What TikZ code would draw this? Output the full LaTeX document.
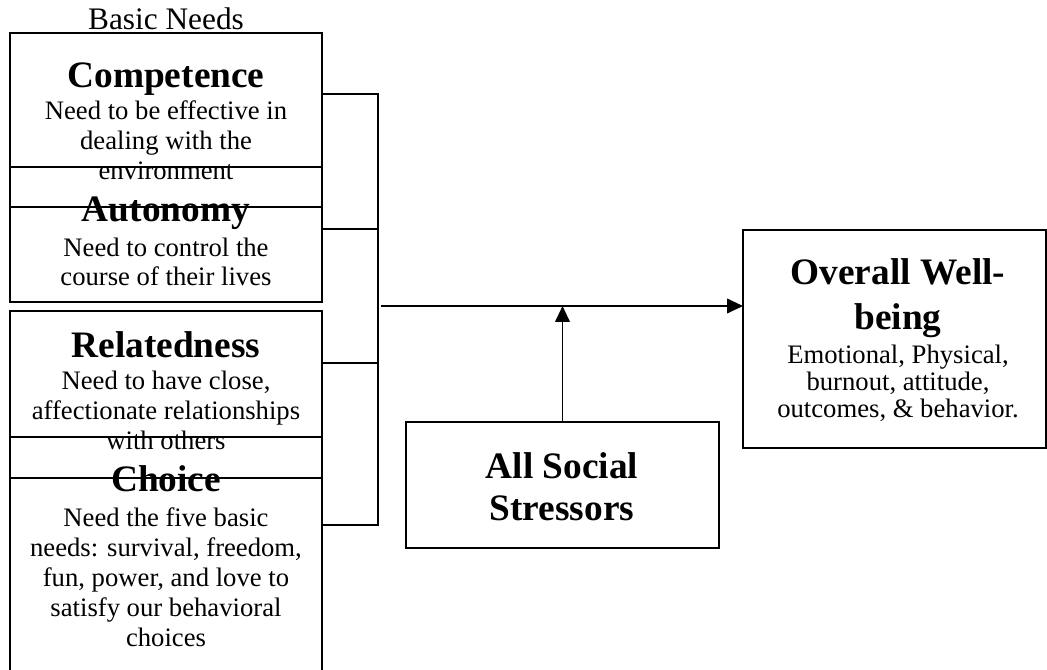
\documentclass[tikz,border=0pt]{standalone}
\usepackage{fontspec}
\setmainfont{Liberation Serif}
\usetikzlibrary{arrows.meta}
\begin{document}
\begin{tikzpicture}[x=0.75pt,y=-0.75pt,
  box/.style={draw,line width=1.4pt,rectangle,inner sep=0pt,outer sep=0pt,anchor=north west},
  ttl/.style={anchor=base,inner sep=0pt,font=\fontsize{28}{32}\selectfont\bfseries,align=center},
  txt/.style={anchor=base,inner sep=0pt,font=\fontsize{20}{22.5}\selectfont,align=center},
  conn/.style={line width=1.4pt},
  arr/.style={line width=1.4pt,-{Triangle[length=12pt,width=11pt]}}]
\useasboundingbox (0,0) rectangle (1047,670);
\clip (0,0) rectangle (1047,670);
% boxes
\node[box,minimum width=234pt,minimum height=130.5pt] (comp) at (10,33) {};
\node[box,minimum width=234pt,minimum height=101.25pt] (auto) at (10,167) {};
\node[box,minimum width=234pt,minimum height=125.25pt] (rel) at (10,311) {};
\node[box,minimum width=234pt,minimum height=187.5pt] (choice) at (10,437) {};
\node[box,minimum width=234.75pt,minimum height=94.5pt] (stress) at (406,422) {};
\node[box,minimum width=227.25pt,minimum height=163.5pt] (well) at (743,230) {};
% bracket
\coordinate (b1) at (378,94);
\coordinate (b2) at (378,229);
\coordinate (b3) at (378,363);
\coordinate (b4) at (378,525);
\draw[conn] (comp.east |- b1) -- (b1) -- (b4) -- (choice.east |- b4);
\draw[conn] (auto.east |- b2) -- (b2);
\draw[conn] (rel.east |- b3) -- (b3);
\coordinate (m) at (381,306);
\draw[arr] (m) -- (well.west |- m);
\draw[arr] (stress.north) -- (stress.north |- m);
% texts (multi-line nodes: base = last line)
\node[txt,font=\fontsize{23.5}{26}\selectfont] (bn) at (166,30) {Basic Needs};
\node[ttl] (compT) at (166,88) {Competence};
\node[txt] (compD) at (166,180) {Need to be effective in\\dealing with the\\environment};
\node[ttl] (autoT) at (166,222) {Autonomy};
\node[txt,font=\fontsize{20}{21.75}\selectfont] (autoD) at (166,286) {Need to control the\\course of their lives};
\node[ttl] (relT) at (166,358) {Relatedness};
\node[txt] (relD) at (166,450) {Need to have close,\\affectionate relationships\\with others};
\node[ttl] (choT) at (166,492) {Choice};
\node[txt] (choD) at (166,646) {Need the five basic\\needs: survival, freedom,\\fun, power, and love to\\satisfy our behavioral\\choices};
\node[ttl,font=\fontsize{28}{31.5}\selectfont\bfseries] (stT) at (562,520) {All Social\\Stressors};
\node[ttl,font=\fontsize{28}{34}\selectfont\bfseries] (wT) at (898,330) {Overall Well-\\being};
\node[txt,font=\fontsize{20}{20.6}\selectfont] (wD) at (898,418) {Emotional, Physical,\\burnout, attitude,\\outcomes, \& behavior.};
\end{tikzpicture}
\end{document}
